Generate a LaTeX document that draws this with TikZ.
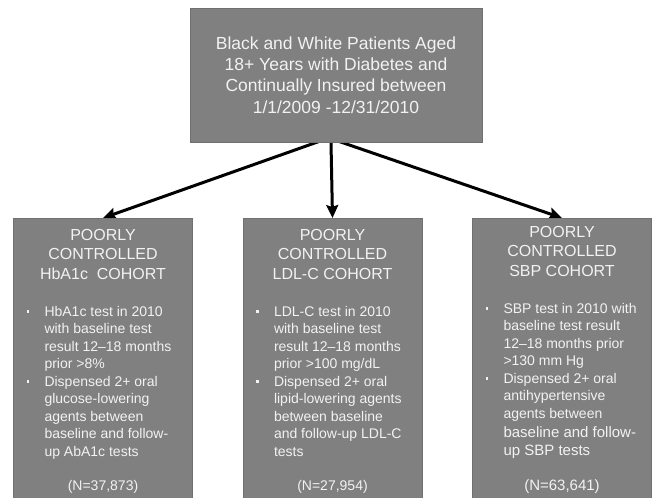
\documentclass[tikz,border=0pt]{standalone}
\usepackage{fontspec}
\setmainfont{Liberation Sans}
\usepackage{tikz}
\usetikzlibrary{arrows.meta,backgrounds}

\definecolor{boxgray}{RGB}{128,128,128}
\definecolor{boxedge}{RGB}{112,112,112}
\definecolor{textgray}{RGB}{242,242,242}

% square bullet with hanging indent
\newcommand{\cohortitem}{\par\hangindent=31pt\hangafter=1\noindent\makebox[31pt][l]{\hspace{13pt}\rule[3.5pt]{2.6pt}{2.6pt}}}

\begin{document}
\begin{tikzpicture}[x=1pt,y=-1pt,
    graybox/.style={draw=boxedge,fill=boxgray,text=textgray,line width=0.8pt},
    popbox/.style={graybox,minimum width=292pt,minimum height=134pt,align=center,
      font=\fontsize{17.5}{21.3}\selectfont},
    cohortbox/.style={graybox,anchor=north,inner sep=0pt},
    branch/.style={line width=3pt,-{Stealth[length=13pt,width=12pt,inset=2pt]}}]
  \useasboundingbox (0,0) rectangle (656,498);
  \clip (0,0) rectangle (656,498);

  \node[popbox] (pop) at (336,75) {Black and White Patients Aged\\18+ Years with Diabetes and\\Continually Insured between\\1/1/2009 -12/31/2010};

  \node[cohortbox] (hba) at (103,218) {\parbox[c][300pt][t]{179pt}{%
      \centering\fontsize{16}{19.5}\selectfont
      \rule{0pt}{22pt}POORLY\\CONTROLLED\\HbA1c\ \ COHORT\par
      \vspace{19.5pt}
      \raggedright\fontsize{14}{17.5}\selectfont
      \cohortitem HbA1c test in 2010\newline with baseline test\newline result 12--18 months\newline prior >8\%
      \cohortitem Dispensed 2+ oral\newline glucose-lowering\newline agents between\newline baseline and follow-\newline up AbA1c tests\par
      \vspace{16.5pt}
      \centering (N=37,873)\par}};

  \node[cohortbox] (ldl) at (332.5,218) {\parbox[c][300pt][t]{179pt}{%
      \centering\fontsize{16}{19.5}\selectfont
      \rule{0pt}{22pt}POORLY\\CONTROLLED\\LDL-C COHORT\par
      \vspace{19.5pt}
      \raggedright\fontsize{14}{17.5}\selectfont
      \cohortitem LDL-C test in 2010\newline with baseline test\newline result 12--18 months\newline prior >100 mg/dL
      \cohortitem Dispensed 2+ oral\newline lipid-lowering agents\newline between baseline\newline and follow-up LDL-C\newline tests\par
      \vspace{16.5pt}
      \centering (N=27,954)\par}};

  \node[cohortbox] (sbp) at (562,218) {\parbox[c][300pt][t]{179pt}{%
      \centering\fontsize{16}{19.5}\selectfont
      \rule{0pt}{19pt}POORLY\\CONTROLLED\\SBP COHORT\par
      \vspace{19.5pt}
      \raggedright\fontsize{14}{17.5}\selectfont
      \cohortitem SBP test in 2010 with\newline baseline test result\newline 12--18 months prior\newline >130 mm Hg
      \cohortitem Dispensed 2+ oral\newline antihypertensive\newline agents between\vspace{1.5pt}\newline {\fontsize{15}{17.5}\selectfont baseline and follow-\vspace{1pt}\newline up SBP tests}\par
      \vspace{17.5pt}
      \centering{\fontsize{15}{17.5}\selectfont (N=63,641)}\par}};

  \begin{scope}[on background layer]
    \draw[branch] ([xshift=-14pt,yshift=2pt]pop.south) -- (hba.north);
    \draw[branch] ([xshift=-5pt]pop.south) -- (ldl.north);
    \draw[branch] ([yshift=2pt]pop.south) -- (sbp.north);
  \end{scope}
\end{tikzpicture}
\end{document}
